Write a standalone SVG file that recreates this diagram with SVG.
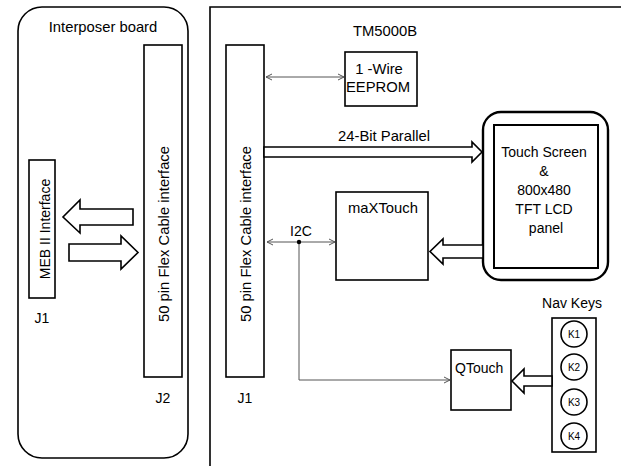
<svg xmlns="http://www.w3.org/2000/svg" width="621" height="466" viewBox="0 0 621 466">
<style>
text{font-family:"Liberation Sans",Arial,sans-serif;font-size:14px;fill:#000}
.box{fill:#fff;stroke:#000;stroke-width:1.6}
.hollow{fill:#fff;stroke:#000;stroke-width:1.6;stroke-linejoin:miter}
.thin{fill:none;stroke:#555;stroke-width:1}
.small{font-size:10px}
.big{font-size:14.8px}
.c{text-anchor:middle}
</style>
<defs>
<marker id="chev" viewBox="0 0 8 8" refX="7" refY="4" markerWidth="8" markerHeight="8" markerUnits="userSpaceOnUse" orient="auto-start-reverse">
<path d="M1,1 L7,4 L1,7" fill="none" stroke="#555" stroke-width="1"/>
</marker>
</defs>
<rect width="621" height="466" fill="#fff"/>

<g id="interposer">
<rect x="18" y="7" width="170" height="451" rx="24" ry="24" fill="none" stroke="#000" stroke-width="1.6"/>
<text x="103" y="32" class="c big">Interposer board</text>
</g>
<g id="meb">
<rect class="box" x="29" y="160" width="26" height="138"/>
<text transform="translate(50,229) rotate(-90)" class="c">MEB II Interface</text>
<text x="42" y="323" class="c">J1</text>
</g>
<g id="j2">
<rect class="box" x="144" y="45" width="38" height="332"/>
<text transform="translate(169,234) rotate(-90)" class="c big">50 pin Flex Cable interface</text>
<text x="163" y="403" class="c">J2</text>
</g>

<g id="tm5000b">
<path d="M210,466 L210,7 L621,7" fill="none" stroke="#000" stroke-width="1.6"/>
<text x="385" y="36" class="c big">TM5000B</text>
</g>
<g id="j1">
<rect class="box" x="226" y="45" width="38" height="332"/>
<text transform="translate(251,234) rotate(-90)" class="c big">50 pin Flex Cable interface</text>
<text x="245" y="403" class="c">J1</text>
</g>
<g id="eeprom">
<rect class="box" x="345" y="52" width="72" height="54"/>
<text x="379" y="74" class="c big">1 -Wire</text>
<text x="378" y="92" class="c big">EEPROM</text>
</g>
<g id="maxtouch">
<rect class="box" x="336" y="192" width="92" height="88"/>
<text x="348" y="213" class="big">maXTouch</text>
</g>
<g id="touchscreen">
<rect x="483" y="112" width="125" height="168" rx="18" ry="18" fill="#fff" stroke="#000" stroke-width="2.4"/>
<rect x="494" y="125" width="104" height="143" fill="none" stroke="#000" stroke-width="2"/>
<text x="544" y="157" class="c">Touch Screen</text>
<text x="544" y="176" class="c">&amp;</text>
<text x="544" y="195" class="c">800x480</text>
<text x="544" y="214" class="c">TFT LCD</text>
<text x="546" y="233" class="c">panel</text>
</g>
<g id="qtouch">
<rect class="box" x="451" y="350" width="60" height="60"/>
<text x="455" y="373">QTouch</text>
</g>
<g id="navkeys">
<text x="572" y="308" class="c">Nav Keys</text>
<rect class="box" x="552" y="318" width="44" height="134"/>
<circle cx="574" cy="334" r="13" class="box"/>
<circle cx="574" cy="367" r="13" class="box"/>
<circle cx="574" cy="402" r="13" class="box"/>
<circle cx="574" cy="436" r="13" class="box"/>
<text x="574" y="338" class="c small">K1</text>
<text x="574" y="371" class="c small">K2</text>
<text x="574" y="406" class="c small">K3</text>
<text x="574" y="440" class="c small">K4</text>
</g>

<g id="connectors">
<path class="hollow" d="M133,209 L80,209 L80,200 L63,217 L80,233 L80,225 L133,225 Z"/>
<path class="hollow" d="M69,244 L121,244 L121,236 L138,252.5 L121,269 L121,261 L69,261 Z"/>
<path class="hollow" d="M264,147 L472,147 L472,142 L482,152 L472,162 L472,157 L264,157 Z"/>
<text x="338" y="141" class="big">24-Bit Parallel</text>
<path class="hollow" d="M483,245 L443,245 L443,239 L430,251.5 L443,264 L443,258 L483,258 Z"/>
<path class="hollow" d="M552,376 L524,376 L524,369 L512,381 L524,393 L524,386 L552,386 Z"/>
<line class="thin" x1="266" y1="77" x2="344" y2="77" marker-start="url(#chev)" marker-end="url(#chev)"/>
<text x="301" y="236" class="c">I2C</text>
<line class="thin" x1="267" y1="242" x2="335" y2="242" marker-start="url(#chev)" marker-end="url(#chev)"/>
<polyline class="thin" points="299,242 299,380 450,380" marker-end="url(#chev)"/>
<circle cx="299" cy="242" r="2.2" fill="#000"/>
</g>
</svg>
